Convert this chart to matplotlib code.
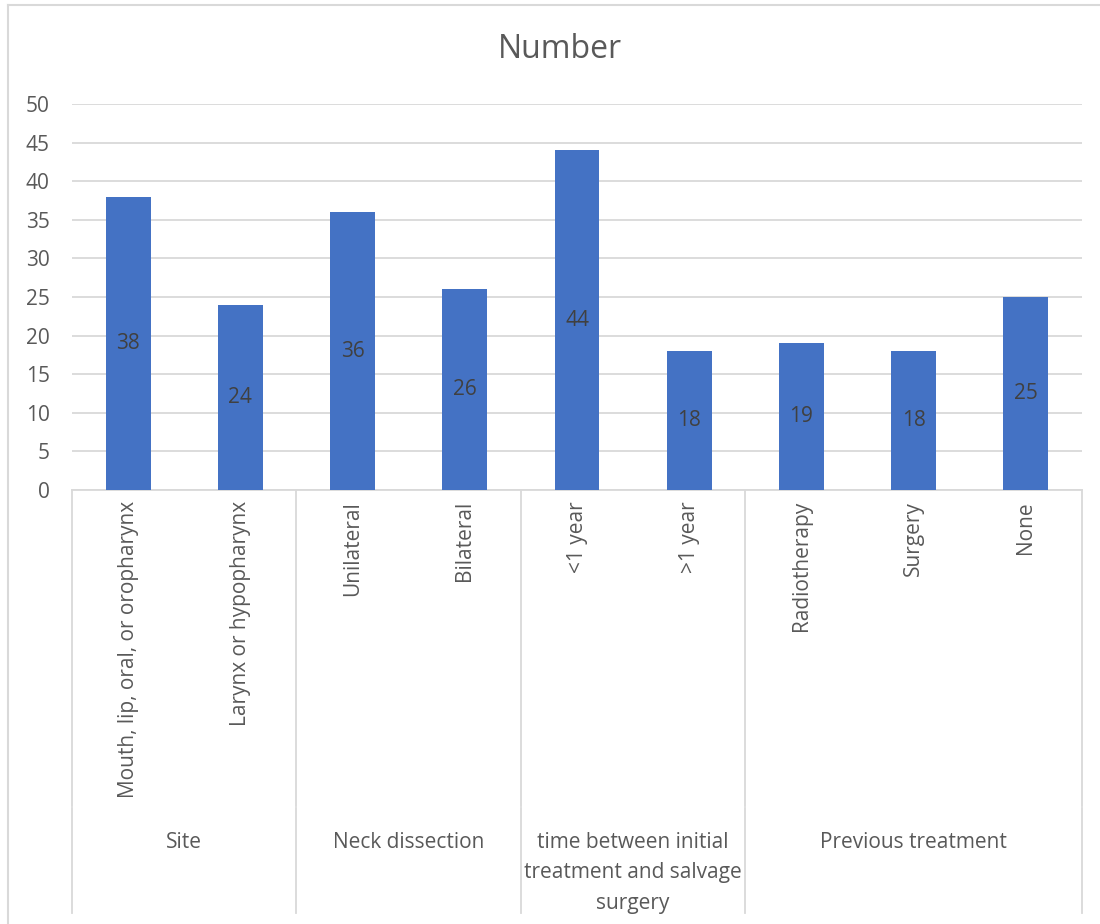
import matplotlib.pyplot as plt
from matplotlib.lines import Line2D
from matplotlib.transforms import blended_transform_factory

# data
categories = ['Mouth, lip, oral, or oropharynx', 'Larynx or hypopharynx',
              'Unilateral', 'Bilateral', '<1 year', '>1 year',
              'Radiotherapy', 'Surgery', 'None']
values = [38, 24, 36, 26, 44, 18, 19, 18, 25]
groups = ['Site', 'Neck dissection',
          'time between initial\ntreatment and salvage\nsurgery',
          'Previous treatment']
group_sizes = [2, 2, 2, 3]

plt.rcParams['font.family'] = ['Open Sans', 'DejaVu Sans']
txt = '#595959'
grid = '#d9d9d9'
fs = 15

fig = plt.figure(figsize=(11, 9.24), dpi=100)
W, H = 1100, 924
ax = fig.add_axes([72 / W, 1 - 490 / H, (1082 - 72) / W, (490 - 104) / H])

x = list(range(len(categories)))
bars = ax.bar(x, values, width=0.4, color='#4472c4', zorder=3)
for b, v in zip(bars, values):
    ax.text(b.get_x() + b.get_width() / 2, v / 2, str(v), ha='center', va='center',
            fontsize=fs, color='#404040', zorder=4)

ax.set_xlim(-0.5, len(categories) - 0.5)
ax.set_ylim(0, 50)
ax.set_yticks(range(0, 51, 5))
ax.yaxis.grid(True, color=grid, linewidth=1.3, zorder=0)
ax.tick_params(axis='y', length=0, labelsize=fs, labelcolor=txt, pad=16)
ax.set_xticks(x)
ax.set_xticklabels(categories, rotation=90, fontsize=fs, color=txt, va='top')
ax.tick_params(axis='x', length=0, pad=8)
for s in ['left', 'right', 'top']:
    ax.spines[s].set_visible(False)
ax.spines['bottom'].set_color(grid)
ax.spines['bottom'].set_linewidth(1.3)

# multi-level category axis
tr = blended_transform_factory(ax.transData, ax.transAxes)
edges = [-0.5]
for n in group_sizes:
    edges.append(edges[-1] + n)
for e in edges:
    ax.add_line(Line2D([e, e], [0, -0.818], transform=tr, color=grid, lw=1.3, clip_on=False))
    ax.add_line(Line2D([e, e], [-0.824, -1.096], transform=tr, color=grid, lw=1.3, clip_on=False))
for g, a, b in zip(groups, edges[:-1], edges[1:]):
    ax.text((a + b) / 2, -0.885, g, transform=tr, ha='center', va='top', fontsize=fs,
            color=txt, linespacing=1.6)

fig.text(560 / W, 1 - 50 / H, 'Number', ha='center', va='center', fontsize=23, color=txt)

# chart frame (cropped at right and bottom)
fig.add_artist(Line2D([8 / W, 8 / W], [0, 1 - 5 / H], transform=fig.transFigure, color=grid, lw=1.5))
fig.add_artist(Line2D([8 / W, 1], [1 - 5 / H, 1 - 5 / H], transform=fig.transFigure, color=grid, lw=1.5))

fig.savefig('out.png', dpi=100, facecolor='white')
